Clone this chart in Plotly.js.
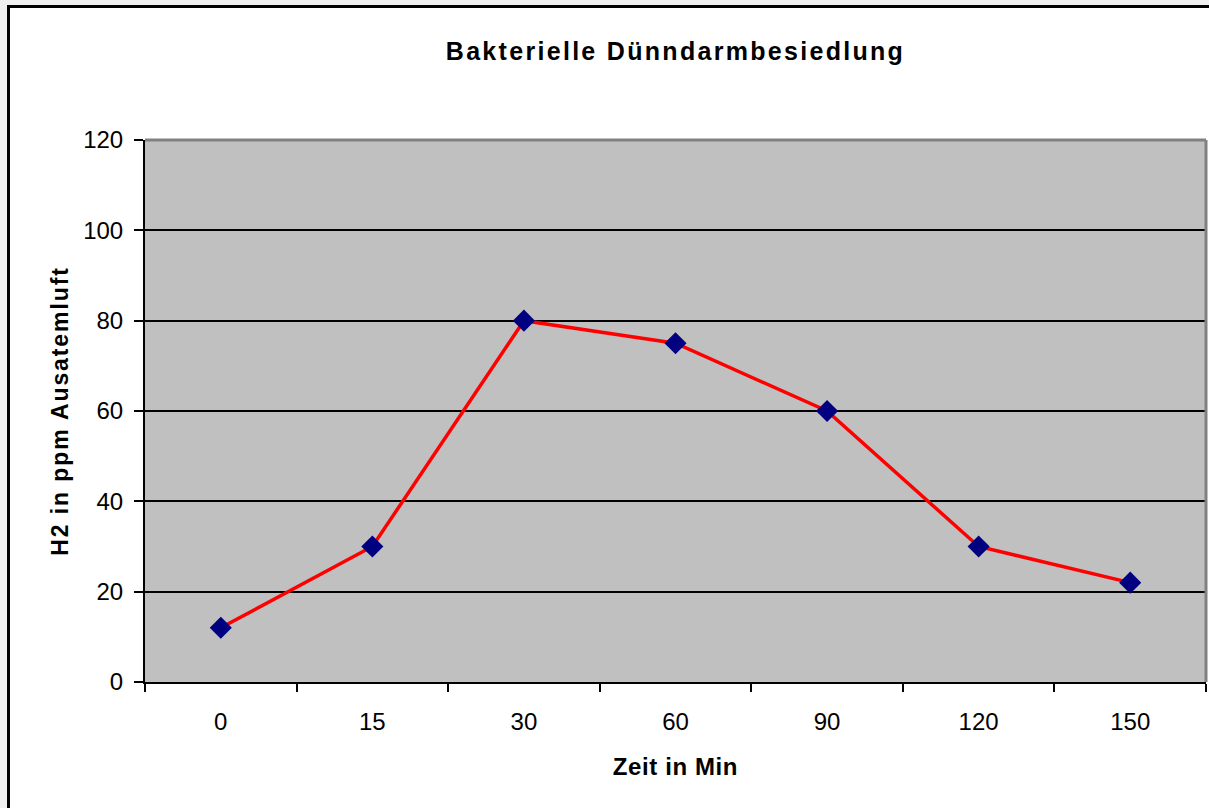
<!DOCTYPE html>
<html>
<head>
<meta charset="utf-8">
<script src="https://cdn.plot.ly/plotly-3.0.1.min.js"></script>
<style>
  html, body { margin: 0; padding: 0; background: #f0f0f0; }
  #wrap { position: absolute; left: 0; top: 0; width: 1209px; height: 808px; overflow: hidden; background: #f0f0f0; }
  #chart { position: absolute; left: 0; top: 0; width: 1209px; height: 808px; }
  #frameTop { position: absolute; left: 7px; top: 5px; width: 1202px; height: 3px; background: #000; }
  #frameLeft { position: absolute; left: 7px; top: 5px; width: 3px; height: 803px; background: #000; }
  #padTop { position: absolute; left: 0; top: 0; width: 1209px; height: 5px; background: #efefef; }
  #padLeft { position: absolute; left: 0; top: 0; width: 7px; height: 808px; background: #efefef; }
  #chart .gtitle { letter-spacing: 2.3px; }
  #chart .ytitle { letter-spacing: 1.9px; }
  #chart .xtitle { letter-spacing: 0.6px; }
</style>
</head>
<body>
<div id="wrap">
  <div id="chart"></div>
  <div id="padTop"></div>
  <div id="padLeft"></div>
  <div id="frameTop"></div>
  <div id="frameLeft"></div>
</div>
<script>
const categories = ["0", "15", "30", "60", "90", "120", "150"];
const h2Values = [12, 30, 80, 75, 60, 30, 22];
const yTickValues = [0, 20, 40, 60, 80, 100, 120];

const trace = {
  x: categories,
  y: h2Values,
  type: "scatter",
  mode: "lines+markers",
  line: { color: "#FF0000", width: 3.5 },
  marker: { symbol: "diamond", size: 17, color: "#000080", line: { width: 0 } },
  hoverinfo: "skip"
};

const layout = {
  width: 1209,
  height: 808,
  margin: { l: 145, r: 3, t: 140, b: 126 },
  paper_bgcolor: "#ffffff",
  plot_bgcolor: "#C0C0C0",
  showlegend: false,
  font: { family: "Liberation Sans, Arial, sans-serif", color: "#000000" },
  title: {
    text: "<b>Bakterielle Dünndarmbesiedlung</b>",
    font: { size: 25, color: "#000000" },
    x: 0.5, xref: "paper", xanchor: "center",
    y: 0.937, yref: "container", yanchor: "middle"
  },
  xaxis: {
    type: "category",
    range: [-0.5, categories.length - 0.5],
    showgrid: false,
    zeroline: false,
    showline: true,
    linecolor: "#000000",
    linewidth: 2,
    ticks: "outside",
    tickson: "boundaries",
    ticklen: 8,
    tickwidth: 2,
    tickcolor: "#000000",
    ticklabelstandoff: 17,
    tickfont: { size: 24, color: "#000000" },
    title: { text: "<b>Zeit in Min</b>", font: { size: 24 }, standoff: 24 },
    fixedrange: true
  },
  yaxis: {
    range: [0, 120],
    tickvals: yTickValues,
    showgrid: true,
    gridcolor: "#000000",
    gridwidth: 2,
    zeroline: false,
    showline: true,
    linecolor: "#000000",
    linewidth: 2,
    ticks: "outside",
    ticklen: 9,
    tickwidth: 2,
    tickcolor: "#000000",
    ticklabelstandoff: 6,
    tickfont: { size: 24, color: "#000000" },
    title: { text: "<b>H2 in ppm Ausatemluft</b>", font: { size: 23 }, standoff: 8 },
    fixedrange: true
  },
  shapes: [
    { type: "line", xref: "paper", yref: "paper", x0: 0, x1: 1, y0: 1, y1: 1, line: { color: "#808080", width: 3 } },
    { type: "line", xref: "paper", yref: "paper", x0: 1, x1: 1, y0: 0, y1: 1, line: { color: "#808080", width: 3 } }
  ]
};

Plotly.newPlot("chart", [trace], layout, { displayModeBar: false, staticPlot: true });
</script>
</body>
</html>
